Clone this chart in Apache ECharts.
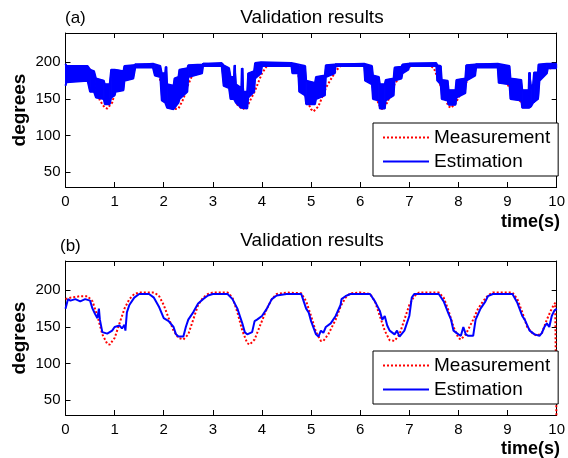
<!DOCTYPE html>
<html>
<head>
<meta charset="utf-8">
<script src="https://cdn.jsdelivr.net/npm/echarts@6/dist/echarts.min.js"></script>
<style>html,body{margin:0;padding:0;background:#fff}#c{width:568px;height:458px}</style>
</head>
<body>
<div id="c"></div>
<script>
// ---------- data ----------
const xTicks = [0, 1, 2, 3, 4, 5, 6, 7, 8, 9, 10];
const yTicks = [50, 100, 150, 200];
const panelTitles = ['Validation results', 'Validation results'];
const panelTags = ['(a)', '(b)'];
const seriesNames = ['Measurement', 'Estimation'];

// (a) measurement [time, degrees]
const measA = [[0,195],[0.4,195],[0.5,190],[0.6,170],[0.7,148],[0.8,138],[0.85,137],[0.95,145],[1.05,170],[1.2,188],[1.4,196],[1.7,197],[1.8,193],[1.9,182],[2.0,160],[2.1,140],[2.2,136],[2.3,137],[2.4,150],[2.5,170],[2.6,185],[2.8,195],[3.0,197],[3.2,197],[3.3,185],[3.4,160],[3.5,142],[3.6,136],[3.7,140],[3.85,160],[4.0,185],[4.1,195],[4.3,197],[4.6,197],[4.7,190],[4.8,170],[4.9,150],[5.0,136],[5.05,133],[5.15,140],[5.3,165],[5.5,188],[5.6,195],[5.8,197],[6.1,196],[6.2,180],[6.3,155],[6.4,140],[6.45,136],[6.55,145],[6.7,170],[6.9,190],[7.1,197],[7.4,197],[7.5,192],[7.6,175],[7.7,155],[7.8,140],[7.85,138],[7.95,145],[8.1,165],[8.3,190],[8.5,197],[8.8,197],[8.9,190],[9.0,170],[9.1,158],[9.2,150],[9.3,145],[9.4,150],[9.5,165],[9.6,175],[9.7,182],[9.8,190],[10,195]];

// (a) estimation: noisy, given as the low / high edge of the blue band at each time
const estATime = [0.00,0.02,0.45,0.50,0.58,0.62,0.78,0.80,0.90,0.93,1.00,1.02,1.18,1.20,1.38,1.42,1.78,1.82,1.93,1.96,2.03,2.04,2.06,2.07,2.20,2.22,2.30,2.32,2.48,2.50,2.78,2.80,3.18,3.22,3.33,3.36,3.43,3.44,3.46,3.47,3.58,3.59,3.61,3.62,3.70,3.72,3.84,3.86,3.98,4.00,4.60,4.62,4.74,4.76,4.88,4.90,5.08,5.10,5.28,5.30,5.48,5.50,6.08,6.10,6.24,6.26,6.38,6.40,6.50,6.52,6.68,6.70,6.84,6.86,6.98,7.00,7.55,7.57,7.64,7.66,7.78,7.80,7.94,7.96,8.14,8.16,8.34,8.36,8.80,8.82,9.04,9.06,9.28,9.30,9.43,9.44,9.46,9.48,9.52,9.54,9.62,9.63,9.65,9.80,9.82,10.0];
const estALow  = [168,173,175,160,160,152,150,143,143,152,155,160,162,175,178,193,193,182,180,148,145,145,145,138,136,138,145,150,160,180,185,195,195,168,165,150,150,150,150,145,138,138,138,137,137,152,160,178,185,195,195,185,185,160,155,143,143,150,155,180,185,195,195,175,170,150,148,137,137,148,155,175,178,185,190,195,195,175,170,150,148,142,142,152,158,175,182,193,193,172,170,150,148,138,138,138,138,140,145,145,150,150,175,185,192,192];
const estAHigh = [198,195,195,190,188,178,175,170,170,190,190,190,188,195,196,198,198,196,195,185,185,194,194,170,168,178,180,190,192,196,197,199,199,196,192,180,180,196,196,170,165,192,192,160,160,185,188,199,200,200,199,197,197,195,195,175,172,180,182,196,197,198,198,196,195,182,180,170,170,176,178,193,194,197,198,199,199,196,195,176,175,162,162,176,178,196,197,198,198,196,195,178,176,162,162,186,186,165,170,186,186,197,197,198,198,198];

// (b) measurement
const measB = [[0,188],[0.1,190],[0.3,192],[0.45,192],[0.55,185],[0.65,165],[0.75,140],[0.85,127],[0.9,126],[1.0,135],[1.1,155],[1.2,175],[1.3,188],[1.4,195],[1.5,197],[1.8,197],[1.9,193],[2.0,180],[2.1,162],[2.2,145],[2.3,135],[2.4,133],[2.5,140],[2.6,160],[2.7,180],[2.8,190],[2.9,195],[3.0,197],[3.3,197],[3.4,190],[3.5,170],[3.6,145],[3.7,128],[3.75,126],[3.85,133],[3.95,150],[4.1,175],[4.2,188],[4.3,195],[4.5,197],[4.8,196],[4.9,185],[5.0,165],[5.1,143],[5.2,131],[5.25,131],[5.35,140],[5.5,160],[5.6,178],[5.7,190],[5.8,196],[6.0,197],[6.2,195],[6.3,185],[6.4,165],[6.5,145],[6.6,132],[6.7,131],[6.8,140],[6.9,160],[7.0,180],[7.1,192],[7.2,197],[7.6,197],[7.7,190],[7.8,172],[7.9,150],[8.0,135],[8.05,133],[8.15,140],[8.3,160],[8.4,175],[8.5,185],[8.6,193],[8.7,197],[9.1,197],[9.2,188],[9.3,170],[9.4,150],[9.5,142],[9.6,138],[9.7,142],[9.8,160],[9.9,175],[9.97,183],[10.0,185],[10.0,0]];

// (b) estimation
const estB = [[0,175],[0.05,188],[0.1,186],[0.2,188],[0.3,185],[0.4,188],[0.5,186],[0.55,175],[0.6,168],[0.65,162],[0.68,175],[0.7,160],[0.75,143],[0.85,141],[0.95,145],[1.0,150],[1.1,152],[1.15,148],[1.2,153],[1.22,145],[1.25,170],[1.3,180],[1.4,190],[1.5,195],[1.7,195],[1.8,190],[1.9,178],[2.0,162],[2.1,158],[2.2,150],[2.25,140],[2.3,137],[2.4,137],[2.45,150],[2.5,160],[2.6,170],[2.7,182],[2.8,188],[2.9,193],[3.0,195],[3.3,195],[3.4,188],[3.5,175],[3.55,165],[3.6,155],[3.65,143],[3.7,140],[3.8,143],[3.85,158],[3.9,160],[4.0,165],[4.1,175],[4.2,188],[4.3,193],[4.5,195],[4.8,195],[4.85,185],[4.9,175],[4.95,170],[5.0,158],[5.1,140],[5.15,137],[5.2,145],[5.25,142],[5.3,150],[5.4,155],[5.5,165],[5.6,180],[5.62,188],[5.7,192],[5.8,195],[6.2,195],[6.3,185],[6.4,172],[6.45,160],[6.5,165],[6.55,152],[6.6,145],[6.7,140],[6.75,145],[6.8,137],[6.9,145],[7.0,165],[7.05,190],[7.1,195],[7.6,195],[7.7,185],[7.8,168],[7.85,160],[7.9,145],[8.0,140],[8.05,138],[8.1,150],[8.15,140],[8.2,138],[8.3,138],[8.35,160],[8.45,175],[8.55,185],[8.6,192],[8.7,195],[9.1,195],[9.2,183],[9.3,165],[9.35,160],[9.45,145],[9.55,140],[9.65,138],[9.7,142],[9.75,150],[9.8,155],[9.85,150],[9.9,165],[9.95,172],[10.0,175]];

// ---------- chart ----------
const FONT = 'Liberation Sans, Arial, sans-serif';
const RED = '#ff0000', BLUE = '#0000ff';
const grids = [
  {left: 65.5, right: 8.7, top: 33, height: 154},
  {left: 65.5, right: 8.7, top: 261, height: 154}
];
const X0 = xTicks[0], X1 = xTicks[xTicks.length - 1];
const Y0 = 30, Y1 = 240;

function xAx(gi, pos) {
  return {type: 'value', gridIndex: gi, position: pos, min: X0, max: X1, interval: 1,
    axisLine: {show: true, onZero: false, lineStyle: {color: '#000', width: 1}},
    axisTick: {show: true, inside: true, length: 5, lineStyle: {color: '#000'}},
    axisLabel: {show: pos === 'bottom', color: '#000', fontSize: 15, fontFamily: FONT, margin: 7},
    splitLine: {show: false}};
}
function yAx(gi, pos) {
  return {type: 'value', gridIndex: gi, position: pos, min: Y0, max: Y1,
    axisLine: {show: true, onZero: false, lineStyle: {color: '#000', width: 1}},
    axisTick: {show: true, inside: true, length: 5, lineStyle: {color: '#000'},
      customValues: yTicks},
    axisLabel: {show: pos === 'left', color: '#000', fontSize: 15, fontFamily: FONT, margin: 5,
      customValues: yTicks},
    splitLine: {show: false}};
}

// band segments for the noisy estimation in (a): [t0, t1, low0, high0, low1, high1]
const bandSegs = estATime.slice(0, -1).map((t, i) =>
  [t, estATime[i + 1], estALow[i], estAHigh[i], estALow[i + 1], estAHigh[i + 1]]);
const lowPts = estALow.map((v, i) => [estATime[i], v]);
const highPts = estAHigh.map((v, i) => [estATime[i], v]);

function renderBand(params, api) {
  const a = api.coord([api.value(0), api.value(2)]);
  const b = api.coord([api.value(1), api.value(4)]);
  const c = api.coord([api.value(1), api.value(5)]);
  const d = api.coord([api.value(0), api.value(3)]);
  return {type: 'polygon', shape: {points: [a, b, c, d]},
    style: {fill: BLUE, stroke: BLUE, lineWidth: 1}};
}

const measStyle = {color: RED, width: 2, type: 'dotted'};
const series = [
  {name: seriesNames[0], type: 'line', xAxisIndex: 0, yAxisIndex: 0, data: measA,
   symbol: 'none', showSymbol: false, lineStyle: measStyle, itemStyle: {color: RED}, z: 2},
  {name: seriesNames[1], type: 'line', xAxisIndex: 0, yAxisIndex: 0, data: lowPts,
   symbol: 'none', showSymbol: false, lineStyle: {color: BLUE, width: 2}, itemStyle: {color: BLUE}, z: 3},
  {name: 'Estimation band', type: 'line', xAxisIndex: 0, yAxisIndex: 0, data: highPts,
   symbol: 'none', showSymbol: false, lineStyle: {color: BLUE, width: 2}, itemStyle: {color: BLUE}, z: 3},
  {name: 'Estimation fill', type: 'custom', xAxisIndex: 0, yAxisIndex: 0, data: bandSegs,
   renderItem: renderBand, encode: {x: [0, 1], y: [2, 3, 4, 5]}, clip: true, z: 3, silent: true},
  {name: seriesNames[0], type: 'line', xAxisIndex: 2, yAxisIndex: 2, data: measB,
   symbol: 'none', showSymbol: false, lineStyle: measStyle, itemStyle: {color: RED}, z: 2},
  {name: seriesNames[1], type: 'line', xAxisIndex: 2, yAxisIndex: 2, data: estB,
   symbol: 'none', showSymbol: false, lineStyle: {color: BLUE, width: 2}, itemStyle: {color: BLUE}, z: 3}
];

function legend(top) {
  return {orient: 'vertical', left: 373, top: top, data: seriesNames, selectedMode: false,
    backgroundColor: '#fff', borderColor: '#000', borderWidth: 1,
    padding: [5, 8, 5, 9], itemGap: 5, itemWidth: 46, itemHeight: 21,
    itemStyle: {opacity: 0, borderWidth: 0},
    textStyle: {color: '#000', fontSize: 19, fontFamily: FONT}};
}

const option = {
  animation: false,
  backgroundColor: '#fff',
  grid: grids,
  xAxis: [xAx(0, 'bottom'), xAx(0, 'top'), xAx(1, 'bottom'), xAx(1, 'top')],
  yAxis: [yAx(0, 'left'), yAx(0, 'right'), yAx(1, 'left'), yAx(1, 'right')],
  legend: [legend(123), legend(351)],
  series: series,
  graphic: [
    {type: 'text', style: {text: panelTitles[0], x: 312, y: 18, textAlign: 'center', textVerticalAlign: 'middle', font: '19px ' + FONT, fill: '#000'}},
    {type: 'text', style: {text: panelTags[0], x: 65, y: 18, textVerticalAlign: 'middle', font: '17px ' + FONT, fill: '#000'}},
    {type: 'text', style: {text: panelTitles[1], x: 312, y: 241, textAlign: 'center', textVerticalAlign: 'middle', font: '19px ' + FONT, fill: '#000'}},
    {type: 'text', style: {text: panelTags[1], x: 60, y: 246, textVerticalAlign: 'middle', font: '17px ' + FONT, fill: '#000'}},
    {type: 'text', style: {text: 'time(s)', x: 560, y: 222, textAlign: 'right', textVerticalAlign: 'middle', font: 'bold 18px ' + FONT, fill: '#000'}},
    {type: 'text', style: {text: 'time(s)', x: 560, y: 449, textAlign: 'right', textVerticalAlign: 'middle', font: 'bold 18px ' + FONT, fill: '#000'}},
    {type: 'text', x: 20, y: 110, rotation: Math.PI / 2, style: {text: 'degrees', x: 0, y: 0, textAlign: 'center', textVerticalAlign: 'middle', font: 'bold 19px ' + FONT, fill: '#000'}},
    {type: 'text', x: 20, y: 338, rotation: Math.PI / 2, style: {text: 'degrees', x: 0, y: 0, textAlign: 'center', textVerticalAlign: 'middle', font: 'bold 19px ' + FONT, fill: '#000'}}
  ]
};

const chart = echarts.init(document.getElementById('c'), null, {renderer: 'canvas'});
chart.setOption(option);
</script>
</body>
</html>
